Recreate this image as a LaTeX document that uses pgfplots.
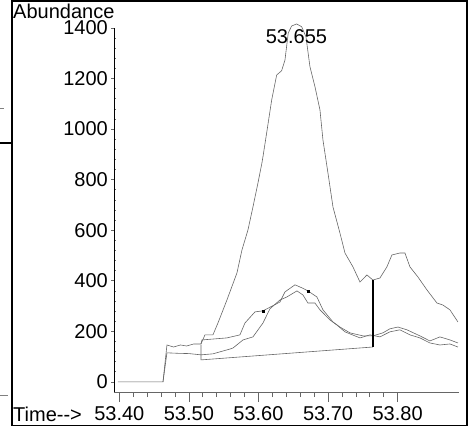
\documentclass[border=0pt]{standalone}
\usepackage{fontspec}
\setmainfont{Liberation Sans}
\usepackage{pgfplots}
\pgfplotsset{compat=1.18}
\begin{document}
\begin{tikzpicture}[font=\fontsize{20bp}{24bp}\selectfont]
\useasboundingbox (0,0) rectangle (469bp,427bp);
% frame
\draw[line width=1.8bp] (11.9bp,1.5bp) rectangle (467bp,426bp);
\draw[line width=1.2bp] (0,284bp) -- (11bp,284bp);
\draw[black!50, line width=0.6bp] (0,319bp) -- (4bp,319bp);
\draw[black!50, line width=0.6bp] (0,32bp) -- (8bp,32bp);
% data axis with y axis
\begin{axis}[
  at={(114bp,35bp)}, anchor=south west, scale only axis,
  width=344.5bp, height=364bp,
  xmin=53.3924, xmax=53.8875, ymin=-40, ymax=1400,
  clip=false,
  axis x line=none, axis y line=left,
  axis line style={-, line width=0.8bp, black},
  ytick={0,200,400,600,800,1000,1200,1400},
  yticklabels={0,200,400,600,800,1000,1200,1400},
  minor y tick num=4,
  tick align=outside,
  major tick length=3bp, minor tick length=2bp,
  minor y tick style={xshift=2bp},
  tick style={black!60, line width=0.6bp},
  yticklabel style={inner sep=0pt, xshift=-3bp},
]
% main ion trace
\addplot[black!60, line width=0.6bp] coordinates {
(53.398,0) (53.4628,0) (53.4685,146) (53.478,138) (53.488,146) (53.4967,142)
(53.507,150) (53.5174,150) (53.5231,186) (53.5346,186) (53.5418,233)
(53.5547,324) (53.5691,431) (53.5763,522) (53.5849,601) (53.5921,692)
(53.5993,787) (53.6050,866) (53.6069,898) (53.6118,985) (53.6190,1115)
(53.6262,1214) (53.6333,1231) (53.6381,1273) (53.6428,1380) (53.6477,1408)
(53.6549,1416) (53.6621,1405) (53.6683,1365) (53.6740,1247) (53.6812,1168)
(53.6884,1076) (53.6927,957) (53.6999,826) (53.7071,692) (53.7171,589) (53.7243,510)
(53.7358,455) (53.7459,395) (53.7559,423) (53.7645,403) (53.7746,411)
(53.7846,455) (53.7918,502) (53.8033,510) (53.8105,510) (53.8177,455)
(53.8292,415) (53.8421,364) (53.8565,312) (53.8651,304) (53.8752,285)
(53.8867,237)
};
% qualifier A
\addplot[black!60, line width=0.6bp] coordinates {
(53.5174,150) (53.5188,166) (53.5547,174) (53.5734,186) (53.5806,233)
(53.5950,277) (53.6065,281) (53.6309,316) (53.6381,356) (53.6525,384)
(53.6625,372) (53.6711,360) (53.6840,336) (53.6927,285) (53.7071,237)
(53.7171,217) (53.7315,194) (53.7502,182) (53.7645,182) (53.7789,194)
(53.7889,210) (53.8005,217) (53.8134,206) (53.8321,182) (53.8464,162)
(53.8608,178) (53.8752,166) (53.8867,154)
};
% qualifier B
\addplot[black!60, line width=0.6bp] coordinates {
(53.4628,0) (53.4685,115) (53.4850,113) (53.5000,112) (53.5174,107)
(53.5346,111) (53.5591,130) (53.5634,134) (53.5778,166) (53.5921,178)
(53.6065,233) (53.6165,289) (53.6309,324) (53.6409,336) (53.6553,360)
(53.6639,344) (53.6711,312) (53.6812,312) (53.6884,285) (53.7028,245)
(53.7128,225) (53.7243,198) (53.7459,174) (53.7603,186) (53.7746,178)
(53.7889,198) (53.8033,206) (53.8177,186) (53.8321,174) (53.8464,154)
(53.8608,146) (53.8752,150) (53.8867,138)
};
% integration baseline
\addplot[black!60, line width=0.6bp] coordinates {
(53.5174,146) (53.5174,87) (53.7645,138)
};
\addplot[black, line width=1.3bp] coordinates {(53.7645,138) (53.7645,405)};
\addplot[only marks, mark=square*, mark size=1bp, black] coordinates {
(53.6065,281) (53.6711,360)};
\node[anchor=base, inner sep=0pt] at (axis cs:53.6546,1340) {53.655};
\end{axis}
% x axis
\begin{axis}[
  at={(114bp,35bp)}, anchor=south west, scale only axis,
  width=344.5bp, height=364bp,
  xmin=53.3924, xmax=53.8875, ymin=-40, ymax=1400,
  axis y line=none, axis x line=bottom,
  axis line style={-, line width=0.6bp, black!60},
  xtick={53.4,53.5,53.6,53.7,53.8},
  xticklabels={53.40,53.50,53.60,53.70,53.80},
  minor x tick num=4,
  tick align=outside,
  major tick length=10bp, minor tick length=5bp,
  tick style={black!60, line width=0.6bp},
  xticklabel style={inner sep=0pt, yshift=-4bp},
]
\addplot[draw=none] coordinates {(53.5,0)};
\end{axis}
\node[anchor=base west, inner sep=0pt] at (13bp,6bp) {Time-{}->};
\node[anchor=base west, inner sep=0pt] at (13bp,408.5bp) {Abundance};
\end{tikzpicture}
\end{document}
